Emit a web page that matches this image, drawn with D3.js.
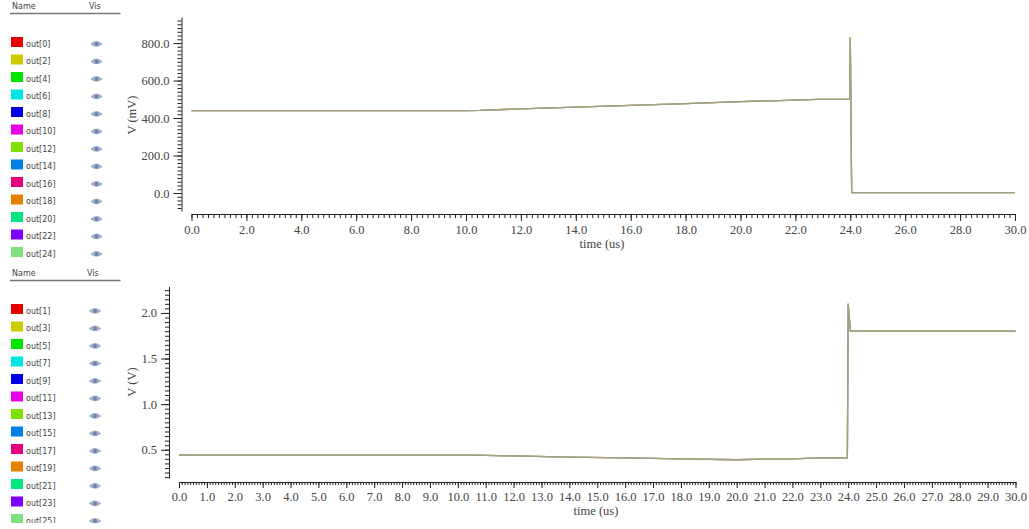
<!DOCTYPE html>
<html>
<head>
<meta charset="utf-8">
<script src="https://cdn.jsdelivr.net/npm/d3@7"></script>
<style>
  html, body { margin: 0; padding: 0; background: #fff; overflow: hidden; }
  svg { display: block; }
  .axis text { font-family: "Liberation Serif", serif; font-size: 12.5px; fill: #444; }
  .axis line, .axis path { stroke: #222; }
  .title { font-family: "Liberation Serif", serif; font-size: 12.5px; fill: #444; }
  .legend text { font-family: "DejaVu Sans", sans-serif; font-size: 8px; fill: #444; }
</style>
</head>
<body>
<div id="canvas"></div>
<script>
const colors = ["#e60000", "#cccc00", "#00e600", "#00e6e6", "#0000e6", "#e600e6", "#80e000",
  "#0080e6", "#e60080", "#e68000", "#00e680", "#8000ff", "#80e080"];
const namesTop = ["out[0]", "out[2]", "out[4]", "out[6]", "out[8]", "out[10]", "out[12]",
  "out[14]", "out[16]", "out[18]", "out[20]", "out[22]", "out[24]"];
const namesBottom = ["out[1]", "out[3]", "out[5]", "out[7]", "out[9]", "out[11]", "out[13]",
  "out[15]", "out[17]", "out[19]", "out[21]", "out[23]", "out[25]"];

// even outputs, mV
const timeTop = [0, 5, 10, 10.5, 12, 14, 16, 18, 20, 22, 22.8, 23, 23.2, 23.9, 23.98, 24.0, 24.05, 30];
const valuesTop = [440, 440, 440, 441, 449, 458, 468, 477, 487, 496, 499, 499, 500, 500, 500, 830, 2, 2];
const valuesTop2 = [440, 440, 440, 441, 449.5, 458.5, 468.5, 477.5, 487.5, 496.5, 499, 504, 500, 500, 500, 838, 2, 2];
// odd outputs, V
const timeBottom = [0, 5, 10.5, 12, 14, 16, 18, 20, 21, 22, 23, 23.9, 23.97, 24.0, 24.08, 30];
const valuesBottom = [0.44, 0.44, 0.44, 0.432, 0.42, 0.41, 0.4, 0.39, 0.397, 0.4, 0.41, 0.41, 0.41, 2.1, 1.8, 1.8];
const valuesBottom2 = [0.44, 0.44, 0.44, 0.433, 0.421, 0.411, 0.401, 0.391, 0.398, 0.401, 0.411, 0.411, 0.411, 2.08, 1.8, 1.8];

const width = 1029;
const height = 529;

const svg = d3.select("#canvas").append("svg")
  .attr("width", width)
  .attr("height", height);

function drawPanel(p) {
  const x = d3.scaleLinear().domain([0, 30]).range(p.xRange);
  const y = d3.scaleLinear().domain(p.yDomain).range(p.yRange);

  // minor ticks first, major axis on top
  svg.append("g").attr("class", "axis")
    .attr("transform", "translate(0," + p.axisY + ")")
    .call(d3.axisBottom(x).tickValues(d3.range(0, 30 + 1e-6, p.xMinor)).tickSize(p.xMinorLen).tickFormat(""))
    .call(g => g.select(".domain").remove());
  svg.append("g").attr("class", "axis")
    .attr("transform", "translate(0," + p.axisY + ")")
    .call(d3.axisBottom(x).tickValues(d3.range(0, 30 + 1e-6, p.xMajor)).tickSize(p.xMajorLen).tickSizeOuter(0)
      .tickPadding(4).tickFormat(d3.format(".1f")));

  svg.append("g").attr("class", "axis")
    .attr("transform", "translate(" + p.axisX + ",0)")
    .call(d3.axisLeft(y).tickValues(p.yMinor).tickSize(4).tickFormat(""))
    .call(g => g.select(".domain").remove());
  svg.append("g").attr("class", "axis")
    .attr("transform", "translate(" + p.axisX + ",0)")
    .call(d3.axisLeft(y).tickValues(p.yMajor).tickSize(8).tickSizeOuter(0)
      .tickPadding(4).tickFormat(d3.format(".1f")));

  svg.append("text").attr("class", "title")
    .attr("x", p.xTitle).attr("y", p.yXTitle).attr("text-anchor", "middle")
    .text("time (us)");
  svg.append("text").attr("class", "title")
    .attr("transform", "translate(" + p.yTitleX + "," + p.yTitleY + ") rotate(-90)")
    .attr("text-anchor", "middle")
    .text(p.yLabel);

  const line = d3.line().x((d, i) => x(p.time[i])).y(d => y(d));

  // all the traces sit on top of each other so they blend into a grey-tan
  const traces = svg.append("g").attr("opacity", 0.72);
  colors.forEach((c, i) => {
    traces.append("path")
      .attr("d", line(p.values))
      .attr("fill", "none")
      .attr("stroke", c)
      .attr("stroke-width", 1.3)
      .attr("stroke-opacity", 1 / (i + 1));
  });
  // out[2]/out[3] runs slightly apart and shows through
  svg.append("path")
    .attr("d", line(p.values2))
    .attr("fill", "none")
    .attr("stroke", colors[1])
    .attr("stroke-width", 0.8)
    .attr("stroke-opacity", 0.22);
}

function drawLegend(l) {
  const g = svg.append("g").attr("class", "legend");
  const clipId = "clip" + l.headerY;
  g.append("clipPath").attr("id", clipId).append("rect")
    .attr("x", 0).attr("y", l.headerY - 8).attr("width", 130).attr("height", l.clipBottom - l.headerY + 8);
  const inner = g.append("g").attr("clip-path", "url(#" + clipId + ")");

  inner.append("text").attr("x", 12).attr("y", l.headerY + 3).text("Name");
  inner.append("text").attr("x", l.visX).attr("y", l.headerY + 3).text("Vis");
  inner.append("line")
    .attr("x1", 10).attr("x2", 120.5).attr("y1", l.headerY + 7.5).attr("y2", l.headerY + 7.5)
    .attr("stroke", "#777").attr("stroke-width", 1.4);

  const row = d3.scalePoint().domain(l.names).range(l.rowRange);
  const rows = inner.selectAll("g.row").data(l.names).enter().append("g")
    .attr("class", "row")
    .attr("transform", d => "translate(0," + row(d) + ")");
  rows.append("rect")
    .attr("x", 11).attr("y", -7).attr("width", 12).attr("height", 10)
    .attr("fill", (d, i) => colors[i]);
  rows.append("text").attr("x", 26).attr("y", 2.7).text(d => d);
  // eye icon
  const eye = rows.append("g").attr("transform", "translate(" + l.eyeX + ",0)");
  eye.append("path")
    .attr("d", "M-5.5,0 Q0,-5 5.5,0 Q0,4.5 -5.5,0 Z")
    .attr("fill", "#a9b6cf").attr("stroke", "#8094b8").attr("stroke-width", 0.7);
  eye.append("circle").attr("r", 2).attr("fill", "#6f83a8");
}

drawPanel({
  xRange: [191.5, 1015], yDomain: [-96, 939], yRange: [211, 17],
  axisY: 214, axisX: 181.5, xMajor: 2, xMinor: 0.2, xMinorLen: 4, xMajorLen: 7,
  yMajor: [0, 200, 400, 600, 800], yMinor: d3.range(-80, 939, 20),
  xTitle: 602, yXTitle: 248, yTitleX: 136, yTitleY: 115, yLabel: "V (mV)",
  time: timeTop, values: valuesTop, values2: valuesTop2
});
drawPanel({
  xRange: [179, 1015.5], yDomain: [0.19, 2.29], yRange: [478, 286.5],
  axisY: 482, axisX: 169, xMajor: 1, xMinor: 0.1, xMinorLen: 3, xMajorLen: 6,
  yMajor: [0.5, 1, 1.5, 2], yMinor: d3.range(0.2, 2.29, 0.05),
  xTitle: 596, yXTitle: 515, yTitleX: 136, yTitleY: 382, yLabel: "V (V)",
  time: timeBottom, values: valuesBottom, values2: valuesBottom2
});

drawLegend({ names: namesTop, headerY: 6, visX: 89, eyeX: 96.5, rowRange: [44, 254], clipBottom: 258 });
drawLegend({ names: namesBottom, headerY: 273, visX: 87, eyeX: 95, rowRange: [311, 521], clipBottom: 523 });
</script>
</body>
</html>
